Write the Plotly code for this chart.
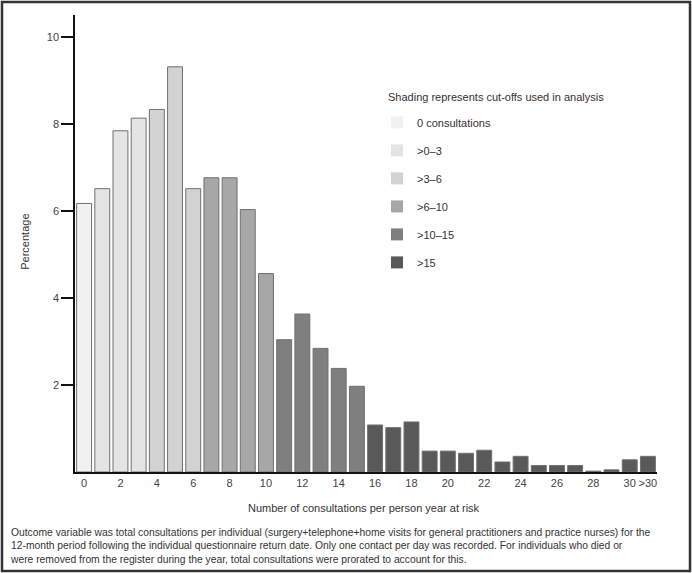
import plotly.graph_objects as go

# ---- data ----
categories = [str(i) for i in range(31)] + [">30"]
percentages = [6.17, 6.51, 7.84, 8.13, 8.33, 9.31, 6.51, 6.76, 6.76, 6.03,
               4.56, 3.04, 3.63, 2.84, 2.38, 1.97, 1.08, 1.02, 1.15, 0.48,
               0.48, 0.43, 0.50, 0.23, 0.36, 0.15, 0.15, 0.15, 0.02, 0.05,
               0.28, 0.36]
group_names = ["0 consultations", ">0\u20133", ">3\u20136", ">6\u201310", ">10\u201315", ">15"]
group_ranges = [(0, 0), (1, 3), (4, 6), (7, 10), (11, 15), (16, 31)]
group_colors = ["#f1f1f1", "#e4e4e4", "#d2d2d2", "#a7a7a7", "#7f7f7f", "#595959"]
tick_positions = list(range(0, 31, 2)) + [31]
tick_labels = [categories[i] for i in tick_positions]

W, H = 692, 573
L, R, T, B = 75, 35, 15, 100.5
pw, ph = W - L - R, H - T - B

def px(xp):
    return (xp - L) / pw

def py(yp):
    return (H - B - yp) / ph

fig = go.Figure()
for name, (a, b), col in zip(group_names, group_ranges, group_colors):
    xs = list(range(a, b + 1))
    fig.add_trace(go.Bar(
        x=xs, y=[percentages[i] for i in xs], width=0.82,
        marker=dict(color=col, line=dict(color="#707070", width=1)),
        showlegend=False, hoverinfo="skip"))
for name, col in zip(group_names, group_colors):
    fig.add_trace(go.Bar(x=[None], y=[None], name=name,
                         marker=dict(color=col, line=dict(width=0)),
                         legendgroup=name))

fig.update_layout(
    width=W, height=H,
    margin=dict(l=L, r=R, t=T, b=B),
    plot_bgcolor="white", paper_bgcolor="white",
    barmode="overlay",
    font=dict(family="Liberation Sans, Arial", size=11, color="#333"),
    showlegend=True,
    legend=dict(
        x=px(377), y=py(108), xanchor="left", yanchor="top",
        font=dict(size=11, color="#333"),
        tracegroupgap=9, bgcolor="rgba(0,0,0,0)"),
    xaxis=dict(range=[-0.5, 31.5], tickmode="array", tickvals=tick_positions,
               ticktext=tick_labels, showline=True, linecolor="#111", linewidth=2,
               ticks="", showgrid=False, zeroline=False,
               tickfont=dict(size=11, color="#444")),
    yaxis=dict(range=[0, 10.5], tickmode="array", tickvals=[2, 4, 6, 8, 10],
               showline=True, linecolor="#111", linewidth=1.5,
               ticks="outside", ticklen=12, tickwidth=2, tickcolor="#111",
               showgrid=False, zeroline=False, ticklabelstandoff=0,
               tickfont=dict(size=11, color="#444")),
)

fig.add_annotation(text="Shading represents cut-offs used in analysis",
                   xref="paper", yref="paper", x=px(386), y=py(97),
                   xanchor="left", yanchor="middle", showarrow=False,
                   font=dict(size=11, color="#333"))
fig.add_annotation(text="Percentage", textangle=-90, xref="paper", yref="paper",
                   x=px(25), y=py(242), xanchor="center", yanchor="middle",
                   showarrow=False, font=dict(size=11, color="#333"))
fig.add_annotation(text="Number of consultations per person year at risk",
                   xref="paper", yref="paper", x=px(364), y=py(509),
                   xanchor="center", yanchor="middle", showarrow=False,
                   font=dict(size=11, color="#333"))
caption = ("Outcome variable was total consultations per individual (surgery+telephone+home visits for general practitioners and practice nurses) for the<br>"
           "12-month period following the individual questionnaire return date. Only one contact per day was recorded. For individuals who died or<br>"
           "were removed from the register during the year, total consultations were prorated to account for this.")
fig.add_annotation(text=caption, xref="paper", yref="paper", x=px(8), y=py(526),
                   xanchor="left", yanchor="top", align="left", showarrow=False,
                   font=dict(size=10.3, color="#333"))
fig.add_shape(type="rect", xref="paper", yref="paper",
              x0=px(2), x1=px(690), y0=py(571.5), y1=py(2),
              line=dict(color="#333", width=2.5), fillcolor="rgba(0,0,0,0)")

fig.write_html("out.html", config={"displayModeBar": False},
               post_script="document.body.style.margin='0';document.body.style.overflow='hidden';")
